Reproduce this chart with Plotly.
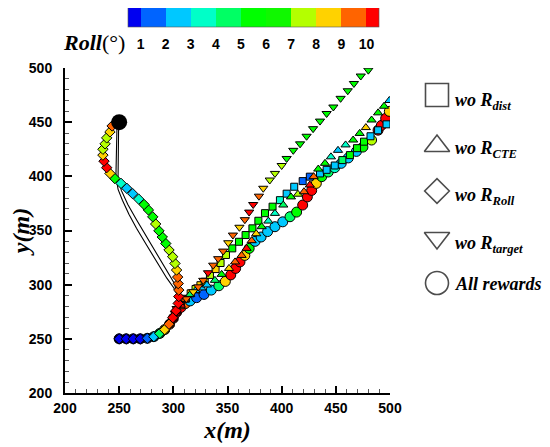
import plotly.graph_objects as go

# page body keeps its 8px margin, so the figure is sized to the window minus that offset
OFF = 8
W, H = 550 - OFF, 447 - OFF


def px(x):
    return (x - OFF) / W


def py(y):
    return 1 - (y - OFF) / H


# roll colour bands (0.5-1, 1-2, ..., 9-10, 10-10.5)
band_edges = [0.5, 1, 2, 3, 4, 5, 6, 7, 8, 9, 10, 10.5]
band_colors = ["#0000f0", "#0064ff", "#00c8ff", "#00ffc8", "#00ff64", "#00ff00",
               "#10f800", "#b4ff00", "#ffd200", "#ff6400", "#ff0000"]
roll_ticks = [1, 2, 3, 4, 5, 6, 7, 8, 9, 10]

# All rewards (circles)
all_x = [250, 256.5, 263, 269.5, 276, 282, 287.5, 292, 296.5, 300, 303, 307, 311, 315.5, 321.5,
         328.3, 335, 342, 348, 353, 357.5, 361.5, 366, 370, 375.5, 381, 387, 393.8, 401, 407.7,
         413.8, 419.4, 423.7, 427.7, 432, 437, 443, 449, 455, 461.5, 469, 475, 483, 489, 492,
         496, 499.4]
all_y = [250, 250, 250, 250, 250.5, 252, 255, 258.5, 263.5, 269, 274.5, 279, 282.5, 285, 288,
         291, 295, 299, 303, 309, 315, 321, 327, 333.5, 340, 344, 349, 353.5, 358, 362.7,
         367, 373.5, 381, 387, 393.5, 399.7, 404, 408, 412, 417, 423, 427, 433.5, 442.6, 447,
         453.5, 460]
all_roll = [0.8, 0.8, 0.8, 0.8, 1.5, 2.5, 4.5, 8.5, 9.5, 10.2, 10.2, 10.2, 9.5, 2.5, 1.5,
            1.5, 2.5, 4.5, 8.5, 10.2, 10.2, 10.2, 8.5, 5.5, 2.5, 2.5, 2.5, 2.5, 2.5, 4.5,
            5.5, 10.2, 10.2, 10.2, 8.5, 5.5, 4.5, 3.5, 2.5, 2.5, 2.5, 5.5, 7.5, 10.2, 10.2,
            10.2, 8.5]

# wo R_dist (squares)
dist_x = [250, 256.5, 263, 269.5, 276, 282, 287.5, 292, 296.5, 300, 303, 307, 311.5, 316, 320.5,
          325, 329, 333.8, 339, 343.6, 348.6, 354.4, 360.6, 366.7, 373, 378.5, 384.6, 391.6, 398.4,
          404.6, 411.6, 419.4, 426, 435.4, 441.5, 449, 456, 463, 469.5, 476, 482, 489, 496.8]
dist_y = [250, 250, 250, 250, 250.5, 252, 255, 258.5, 263.5, 269, 275, 281, 287, 292, 296,
          299.5, 302.7, 309, 314.4, 320, 327.4, 333.5, 339.6, 345.8, 352, 359, 366, 372, 378,
          384, 390.4, 395.6, 399.7, 402.7, 406, 410, 415, 419.6, 426, 432, 437, 442.5, 448]
dist_roll = [0.8, 0.8, 0.8, 0.8, 1.5, 2.5, 4.5, 8.5, 9.5, 10.2, 10.2, 9.5, 9.5, 8.5, 7.5,
             8.5, 7.5, 7.5, 8.5, 7.5, 7.5, 5.5, 5.5, 5.5, 5.5, 5.5, 5.5, 5.5, 3.5,
             2.5, 2.5, 1.5, 1.5, 2.5, 2.5, 2.5, 4.5, 5.5, 5.5, 5.5, 2.5, 2.5, 2.5]

# wo R_CTE (up triangles)
cte_x = [250, 256.5, 263, 269.5, 276, 282, 287.5, 292, 296.5, 300, 303, 307, 311, 315.5, 320.5,
         326, 331, 338.4, 344.6, 351.4, 357, 363, 367.6, 372.3, 376.5, 381.5, 387.7, 393.8, 401.5,
         408.6, 415, 420.6, 426, 429.5, 433.8, 440, 445.5, 452, 459, 466, 472, 477.7, 483, 489,
         494.5, 499.4]
cte_y = [250, 250, 250, 250, 250.5, 252, 255, 258.5, 263.5, 269, 275, 281, 286.5, 291, 294.5,
         297, 299.7, 304, 309.5, 315, 321, 327, 333.5, 340.6, 347, 353.5, 358.7, 365.8, 373.5,
         381, 383.5, 385.8, 392, 399.7, 406.7, 412, 418, 424, 429, 433.5, 439.6, 445, 452, 458.6,
         464.7, 470]
cte_roll = [0.8, 0.8, 0.8, 0.8, 1.5, 2.5, 4.5, 8.5, 9.5, 10.2, 10.2, 10.2, 9.5, 4.5, 2.5,
            2.5, 2.5, 4.5, 5.5, 8.5, 9.5, 9.5, 10.2, 9.5, 8.5, 5.5, 3.5, 3.5, 4.5,
            5.5, 7.5, 9.5, 10.2, 9.5, 5.5, 5.5, 3.5, 2.5, 3.5, 5.5, 5.5, 8.5, 5.5, 5.5,
            5.5, 2.5]

# wo R_target (down triangles)
tgt_x = [250, 256.5, 263, 269.5, 276, 282, 287, 292, 297, 300, 301.5, 303, 306, 312, 318.4,
         323, 327.6, 332, 336.8, 341.4, 346, 350.7, 355, 361, 366, 370, 373.7, 379, 383, 389,
         393.8, 400, 404.6, 410.7, 417, 423, 429, 435.4, 441.5, 447.7, 454.4, 461, 466.7, 473, 480]
tgt_y = [250, 250, 250, 250, 250.5, 252, 254.5, 257.5, 263, 268, 273.5, 278, 282.7, 287, 293.5,
         298, 304, 311, 318, 324, 331, 338.7, 345.8, 353, 360, 367, 374, 381.7, 389, 396.6,
         402.7, 410, 416.5, 424, 430, 437, 444, 451, 458, 464, 472, 479, 485.7, 492.6, 498]
tgt_roll = [0.8, 0.8, 0.8, 0.8, 1.5, 2.5, 4.5, 8.5, 9.5, 10.2, 10.2, 10.2, 9.5, 9.5, 8.5,
            9.5, 9.5, 10.2, 9.5, 9.5, 9.5, 8.5, 9.5, 8.5, 9.5, 10.2, 10.2, 9.5, 8.5, 7.5,
            7.5, 7.5, 5.5, 5.5, 5.5, 5.5, 5.5, 5.5, 5.5, 5.5, 5.5, 5.5, 5.5, 5.5, 5.5]

# wo R_Roll (diamonds)
rollr_x = [250, 256.5, 263, 269.5, 276, 282, 287.5, 292, 296, 299.5, 302.5, 304.5, 305, 305, 304.5,
           304, 303, 301.5, 299.4, 296, 293, 289.8, 286.7, 283.7, 281, 277, 273, 268, 262.5, 257,
           251.7, 246, 241.5, 238.5, 236, 235, 235, 237, 238.5, 241.5, 243.5]
rollr_y = [250, 250, 250, 250, 250.5, 252, 255, 258.5, 263.5, 269.5, 276, 282.7, 289, 295, 301,
           307, 313.5, 319.6, 325.8, 332, 338, 344, 349.7, 356, 362.6, 369, 374, 379, 384, 389,
           393.5, 398, 402.7, 408, 414, 419.6, 425, 430, 435.5, 441, 446.5]
rollr_roll = [0.8, 0.8, 0.8, 0.8, 1.5, 2.5, 4.5, 8.5, 9.5, 10.2, 10.2, 10.2, 10.2, 9.5, 9.5,
              9.5, 8.5, 7.5, 7.5, 7.5, 5.5, 5.5, 5.5, 7.5, 5.5, 5.5, 5.5, 3.5, 2.5, 2.5,
              3.5, 5.5, 8.5, 10.2, 10.2, 8.5, 7.5, 7.5, 7.5, 8.5, 9.5]

# target point and the thin black reference curves
target_x = [250]
target_y = [450]
refA_x = [248, 247.5, 247, 247, 249, 253, 259, 266, 275, 285, 294, 300.5, 303.5]
refA_y = [447, 430, 415, 400, 388, 378, 365, 352, 337, 320, 306, 297, 291]
refB_x = [249.5, 249.5, 249, 249, 252, 258, 266, 275, 285, 294.5, 301, 303.5]
refB_y = [447, 430, 415, 400, 387, 374, 360, 345, 328, 313, 301, 291]

legend_names = ["<b><i>wo R<sub>dist</sub></i></b>", "<b><i>wo R<sub>CTE</sub></i></b>",
                "<b><i>wo R<sub>Roll</sub></i></b>", "<b><i>wo R<sub>target</sub></i></b>",
                "<b><i>All rewards</i></b>"]

# discrete colour scale built from the bands
lo, hi = band_edges[0], band_edges[-1]
cscale = []
for i, c in enumerate(band_colors):
    cscale.append([(band_edges[i] - lo) / (hi - lo), c])
    cscale.append([(band_edges[i + 1] - lo) / (hi - lo), c])

fig = go.Figure()

for rx, ry in [(refA_x, refA_y), (refB_x, refB_y)]:
    fig.add_trace(go.Scatter(x=rx, y=ry, mode="lines", line=dict(color="black", width=1.1),
                             showlegend=False, hoverinfo="skip"))

# colour bar geometry (pixels in the window)
cb_left, cb_len, cb_top, cb_thick = 128, 251, 5, 22

tracks = [
    (all_x, all_y, all_roll, "circle", 10),
    (dist_x, dist_y, dist_roll, "square", 7),
    (cte_x, cte_y, cte_roll, "triangle-up", 8),
    (tgt_x, tgt_y, tgt_roll, "triangle-down", 8),
    (rollr_x, rollr_y, rollr_roll, "diamond", 8),
]
for k, (tx, ty, tr, sym, sz) in enumerate(tracks):
    marker = dict(symbol=sym, size=sz, color=tr, colorscale=cscale, cmin=lo, cmax=hi,
                  line=dict(color="black", width=1))
    if k == 0:
        marker["showscale"] = True
        marker["colorbar"] = dict(
            orientation="h", x=px(cb_left + cb_len / 2), xanchor="center", y=py(cb_top), yanchor="top",
            len=cb_len, lenmode="pixels", thickness=cb_thick, thicknessmode="pixels",
            outlinewidth=0.6, outlinecolor="#555", xpad=0, ypad=0,
            tickvals=roll_ticks, ticks="outside", ticklen=5, tickcolor="rgba(0,0,0,0)",
            tickfont=dict(family="Liberation Sans", size=14, color="black", weight="bold"))
    fig.add_trace(go.Scatter(x=tx, y=ty, mode="markers", marker=marker,
                             showlegend=False, hoverinfo="skip"))

fig.add_trace(go.Scatter(x=target_x, y=target_y, mode="markers",
                         marker=dict(color="black", size=16), showlegend=False))

# thin separators between the colour bands
for e in band_edges[1:-1]:
    sx = px(cb_left + (e - lo) / (hi - lo) * cb_len)
    fig.add_shape(type="line", xref="paper", yref="paper", x0=sx, x1=sx,
                  y0=py(cb_top), y1=py(cb_top + cb_thick),
                  line=dict(color="rgba(60,60,60,0.6)", width=0.8))

# legend symbols on a pixel-based helper axis
leg_sym = ["square-open", "triangle-up-open", "diamond-open", "triangle-down-open", "circle-open"]
leg_size = [23, 22, 19, 22, 23]
leg_py = [95, 146, 191, 238, 283]
fig.add_trace(go.Scatter(x=[437] * 5, y=leg_py, mode="markers", xaxis="x2", yaxis="y2",
                         marker=dict(symbol=leg_sym, size=leg_size, color="black",
                                     line=dict(color="black", width=1.6)),
                         showlegend=False, hoverinfo="skip"))

text_py = [101, 149, 196, 244, 284]
for name, ty in zip(legend_names, text_py):
    fig.add_annotation(text=name, x=px(453), y=py(ty), xref="paper", yref="paper",
                       xanchor="left", yanchor="middle", showarrow=False,
                       font=dict(family="Liberation Serif", size=18, color="black"))

fig.add_annotation(text="<b><i>Roll</i></b>(°)", x=px(127), y=py(42), xref="paper", yref="paper",
                   xanchor="right", yanchor="middle", showarrow=False,
                   font=dict(family="Liberation Serif", size=22, color="black"))

axis_common = dict(
    range=[200, 500], dtick=50, ticks="inside", ticklen=7, tickwidth=1.5, tickcolor="black",
    showline=True, linewidth=2, linecolor="black", showgrid=False, zeroline=False,
    automargin=False,
    tickfont=dict(family="Liberation Sans", size=14, color="black", weight="bold"),
    minor=dict(dtick=10, ticks="inside", ticklen=4, tickwidth=1, tickcolor="#555"),
)

fig.update_layout(
    width=W, height=H, margin=dict(l=0, r=0, t=0, b=0, autoexpand=False),
    paper_bgcolor="white", plot_bgcolor="rgba(0,0,0,0)",
    xaxis=dict(axis_common, domain=[px(65), px(390)], ticklabelstandoff=1,
               title=dict(text="<b><i>x(m)</i></b>", standoff=6,
                          font=dict(family="Liberation Serif", size=24, color="black"))),
    yaxis=dict(axis_common, domain=[py(393), py(68)], ticklabelstandoff=8,
               title=dict(text="<b><i>y(m)</i></b>", standoff=3,
                          font=dict(family="Liberation Serif", size=24, color="black"))),
    xaxis2=dict(domain=[px(385), 1], range=[385, 550], visible=False, fixedrange=True),
    yaxis2=dict(domain=[0, 1], range=[447, OFF], visible=False, anchor="x2", fixedrange=True),
)

fig.write_html("out.html")
